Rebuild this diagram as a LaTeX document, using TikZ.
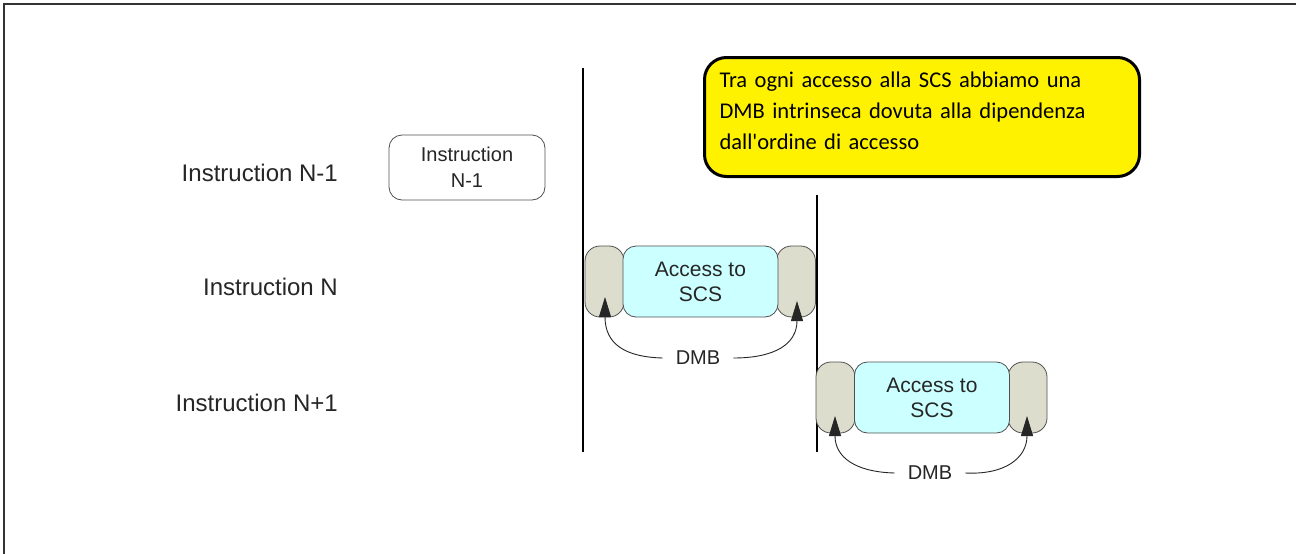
\documentclass[tikz,border=0pt]{standalone}
\usepackage{fontspec}
\setmainfont{Liberation Sans}
\newfontfamily\notefont{Carlito}
\usetikzlibrary{arrows.meta}
\definecolor{capgray}{RGB}{221,221,206}
\definecolor{scscyan}{RGB}{204,255,255}
\definecolor{noteyellow}{RGB}{255,242,0}
\definecolor{edgegray}{RGB}{80,80,80}
\tikzset{
  rowlabel/.style={anchor=east, inner sep=0pt, text=black!85,
    font=\fontsize{24}{28}\selectfont},
  instrbox/.style={draw=edgegray, line width=0.8pt, rounded corners=13pt,
    minimum width=156pt, minimum height=65pt, align=center, inner sep=0pt,
    text=black!85, font=\fontsize{20}{26}\selectfont},
  dmbcap/.style={draw=edgegray, line width=0.8pt, fill=capgray,
    rounded corners=15pt, minimum width=39pt, minimum height=71pt, inner sep=0pt},
  scsbox/.style={draw=edgegray, line width=0.8pt, fill=scscyan,
    rounded corners=13pt, minimum width=155pt, minimum height=71pt,
    align=center, inner sep=0pt, text=black!85,
    font=\fontsize{21}{25}\selectfont},
  dmblabel/.style={inner xsep=13pt, inner ysep=2pt, text=black!85,
    font=\fontsize{20}{24}\selectfont},
  dmbarrow/.style={draw=black!85, line width=0.9pt,
    -{Triangle[length=20pt,width=12pt]}},
  timeline/.style={draw=black, line width=1.2pt},
  frameline/.style={draw=black!80, line width=2pt},
  notebox/.style={draw=black, line width=3pt, fill=noteyellow,
    rounded corners=22pt, anchor=north west, minimum width=435pt,
    minimum height=119pt, text width=405pt, inner xsep=15pt, inner ysep=0pt,
    align=left, font=\notefont\fontsize{22.5}{31}\selectfont}
}
\begin{document}
\begin{tikzpicture}[x=1pt,y=-1pt]
  % canvas and its top/left frame
  \useasboundingbox (0,0) rectangle (1296,554);
  \fill[white] (0,0) rectangle (1296,554);
  \coordinate (fTL) at (4,4);
  \coordinate (fTR) at (1296,4);
  \coordinate (fBL) at (4,554);
  \draw[frameline] (fTR) -- (fTL) -- (fBL);

  % row labels
  \node[rowlabel] (lblA) at (338,173) {Instruction N-1};
  \node[rowlabel] (lblB) at (338,287) {Instruction N};
  \node[rowlabel] (lblC) at (338,403) {Instruction N+1};

  % previous instruction
  \node[instrbox] (prev) at (467,167.5) {Instruction\\N-1};

  % time markers
  \coordinate (t1top) at (583,68);
  \coordinate (t1bot) at (583,452);
  \coordinate (t2top) at (817,195);
  \coordinate (t2bot) at (817,452);
  \draw[timeline] (t1top) -- (t1bot);
  \draw[timeline] (t2top) -- (t2bot);

  % instruction N: barrier, access, barrier
  \node[dmbcap] (capNL) at (604.5,281.5) {};
  \node[dmbcap] (capNR) at (796,281.5) {};
  \node[scsbox] (scsN) at (700.5,281.5) {Access to\\SCS};
  \node[dmblabel] (dmbN) at (698,358) {DMB};
  \coordinate (tipNL) at (605,297);
  \coordinate (tipNR) at (797,301);
  \draw[dmbarrow] (dmbN.west) .. controls (625,357) and (605,344) .. (tipNL);
  \draw[dmbarrow] (dmbN.east) .. controls (775,358) and (797,344) .. (tipNR);

  % instruction N+1: barrier, access, barrier
  \node[dmbcap] (capML) at (835.5,397.5) {};
  \node[dmbcap] (capMR) at (1027.5,397.5) {};
  \node[scsbox] (scsM) at (932,397.5) {Access to\\SCS};
  \node[dmblabel] (dmbM) at (930,473) {DMB};
  \coordinate (tipML) at (835,416);
  \coordinate (tipMR) at (1027,416);
  \draw[dmbarrow] (dmbM.west) .. controls (855,472) and (835,457) .. (tipML);
  \draw[dmbarrow] (dmbM.east) .. controls (1005,475) and (1027,458) .. (tipMR);

  % explanatory note
  \node[notebox] (note) at (703,56)
    {Tra ogni accesso alla SCS abbiamo una\\
     DMB intrinseca dovuta alla dipendenza\\
     dall'ordine di accesso\rule[-13pt]{0pt}{1pt}};
\end{tikzpicture}
\end{document}
